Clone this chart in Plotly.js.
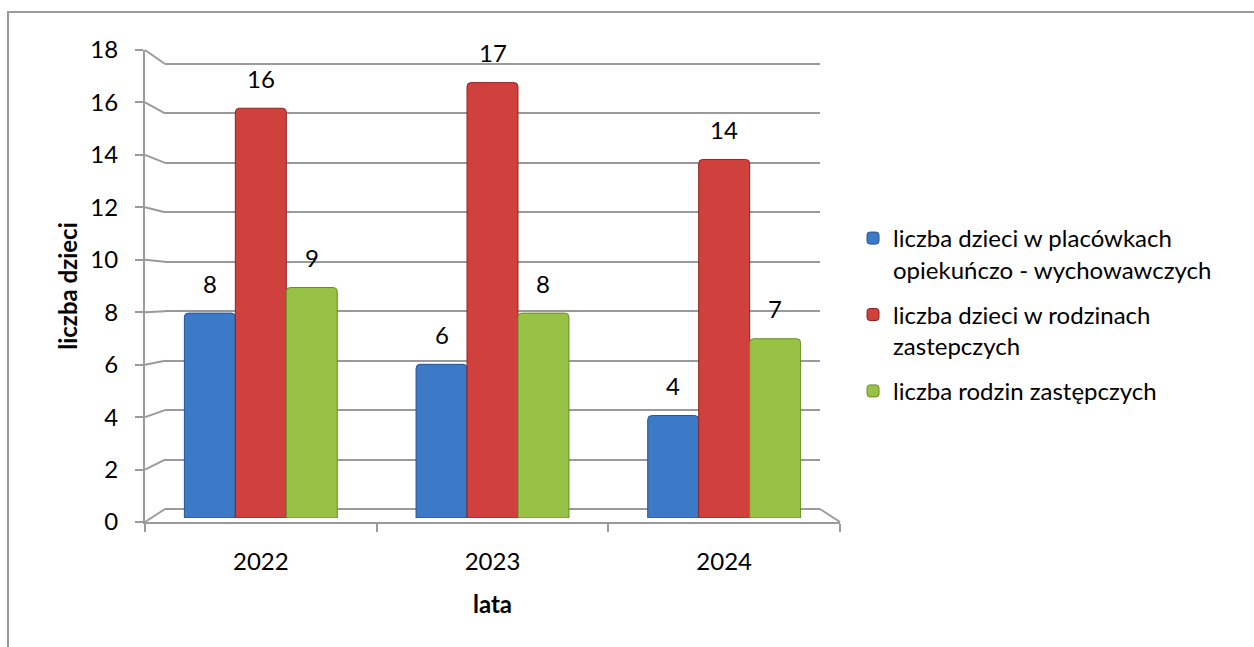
<!DOCTYPE html>
<html>
<head>
<meta charset="utf-8">
<script src="https://cdn.plot.ly/plotly-3.0.1.min.js"></script>
<style>html,body{margin:0;padding:0;background:#fff;}#chart{width:1254px;height:647px;}</style>
</head>
<body>
<div id="chart"></div>
<script>
// ---- data ----
const years = ["2022", "2023", "2024"];
const seriesNames = [
  "liczba dzieci w placówkach<br>opiekuńczo - wychowawczych",
  "liczba dzieci w rodzinach<br>zastepczych",
  "liczba rodzin zastępczych"
];
const placowki = [8, 6, 4];
const rodzinyDzieci = [16, 17, 14];
const rodziny = [9, 8, 7];
const yTicks = [0, 2, 4, 6, 8, 10, 12, 14, 16, 18];
const yTitle = "liczba dzieci";
const xTitle = "lata";

// ---- style ----
const W = 1254, H = 647;
const FONT = "Lato, 'Open Sans', sans-serif";
const FS = 24;
const colors = ["#3c79c7", "#d0413e", "#97c245"];
const edges = ["#24538f", "#8e2422", "#6a8c2a"];
const seriesVals = [placowki, rodzinyDzieci, rodziny];

const px = v => v / W;
const py = v => 1 - v / H;
const frontX = [px(145), px(840)];
const frontY = [py(522), py(50)];
const backX = [px(165), px(820)];
const backY = [py(509), py(64)];
const barY = [py(518), py(57)];
const bargap = 0.34;
const yMax = 18;
// back wall padded so the top gridline is not on the domain edge
const pad = 0.5;
const backUnit = (backY[1] - backY[0]) / yMax;
const backYPadded = [backY[0] - pad * backUnit, backY[1] + pad * backUnit];

const traces = [];
traces.push({type: "scatter", x: [], y: [], xaxis: "x", yaxis: "y", showlegend: false, hoverinfo: "skip"});
traces.push({type: "scatter", x: [], y: [], xaxis: "x2", yaxis: "y2", showlegend: false, hoverinfo: "skip"});
seriesVals.forEach((vals, i) => {
  traces.push({
    type: "bar", x: years, y: vals, name: seriesNames[i],
    xaxis: "x3", yaxis: "y3", legendgroup: "g" + i,
    marker: {color: colors[i], line: {color: edges[i], width: 1}, cornerradius: 4},
    hoverinfo: "y"
  });
});

// value labels above bars
const catPx = (840 - 145) / years.length;
const barPx = catPx * (1 - bargap) / seriesVals.length;
const annotations = [];
seriesVals.forEach((vals, i) => {
  vals.forEach((v, j) => {
    annotations.push({
      x: j, y: v, xref: "x3", yref: "y3", text: String(v), showarrow: false,
      xshift: (i - 1) * barPx, yshift: 30, yanchor: "middle", xanchor: "center",
      font: {family: FONT, size: FS, color: "#000"}
    });
  });
});

// 3D connectors between front ticks and back wall
const shapes = [];
const lineStyle = {color: "#9a9a9a", width: 2};
yTicks.forEach(v => {
  const yf = frontY[0] + (v / yMax) * (frontY[1] - frontY[0]);
  const yb = backY[0] + (v / yMax) * (backY[1] - backY[0]);
  shapes.push({type: "line", xref: "paper", yref: "paper", x0: frontX[0], y0: yf, x1: backX[0], y1: yb, line: lineStyle, layer: "below"});
});
shapes.push({type: "line", xref: "paper", yref: "paper", x0: frontX[1], y0: frontY[0], x1: backX[1], y1: backY[0], line: lineStyle, layer: "below"});
shapes.push({type: "rect", xref: "paper", yref: "paper", x0: px(8), y0: -0.2, x1: 1.2, y1: py(12), line: {color: "#9a9a9a", width: 2}});

const hiddenAxis = {showline: false, showgrid: false, zeroline: false, showticklabels: false, ticks: "", fixedrange: true};

const layout = {
  width: W, height: H,
  margin: {l: 0, r: 0, t: 0, b: 0},
  paper_bgcolor: "#fff", plot_bgcolor: "rgba(0,0,0,0)",
  font: {family: FONT, size: FS, color: "#000"},
  barmode: "group", bargap: bargap, bargroupgap: 0,
  showlegend: true,
  legend: {
    x: px(853), y: py(216), xanchor: "left", yanchor: "top",
    font: {family: FONT, size: FS, color: "#000"},
    valign: "top", tracegroupgap: 11, bgcolor: "rgba(0,0,0,0)"
  },
  xaxis: Object.assign({domain: backX, anchor: "y", range: [-0.5, 2.5]}, hiddenAxis),
  yaxis: {domain: backYPadded, anchor: "x", range: [-pad, yMax + pad], tickvals: yTicks, showgrid: true,
          gridcolor: "#9a9a9a", gridwidth: 2, showticklabels: false, ticks: "", zeroline: false, showline: false, fixedrange: true},
  xaxis2: {domain: frontX, anchor: "y2", type: "category", categoryarray: years, range: [-0.5, 2.5],
           showline: true, linecolor: "#9a9a9a", linewidth: 2, ticks: "outside", tickson: "boundaries",
           ticklen: 8, tickcolor: "#9a9a9a", tickwidth: 2, showgrid: false, ticklabelstandoff: 17,
           tickfont: {family: FONT, size: FS, color: "#000"},
           title: {text: "<b>" + xTitle + "</b>", standoff: 22, font: {family: FONT, size: FS, color: "#000"}}, fixedrange: true},
  yaxis2: {domain: frontY, anchor: "x2", range: [0, yMax], tickvals: yTicks, showline: true, linecolor: "#9a9a9a", linewidth: 2,
           ticks: "outside", ticklen: 8, tickcolor: "#9a9a9a", tickwidth: 2, showgrid: false, zeroline: false,
           ticklabelstandoff: 12, tickfont: {family: FONT, size: FS, color: "#000"},
           title: {text: "<b>" + yTitle + "</b>", standoff: 6, font: {family: FONT, size: FS, color: "#000"}}, fixedrange: true},
  xaxis3: Object.assign({domain: frontX, anchor: "y3", type: "category", categoryarray: years, range: [-0.5, 2.5]}, hiddenAxis),
  yaxis3: Object.assign({domain: barY, anchor: "x3", range: [0, yMax]}, hiddenAxis),
  annotations: annotations,
  shapes: shapes
};

Plotly.newPlot("chart", traces, layout, {displayModeBar: false, staticPlot: true});
</script>
</body>
</html>
